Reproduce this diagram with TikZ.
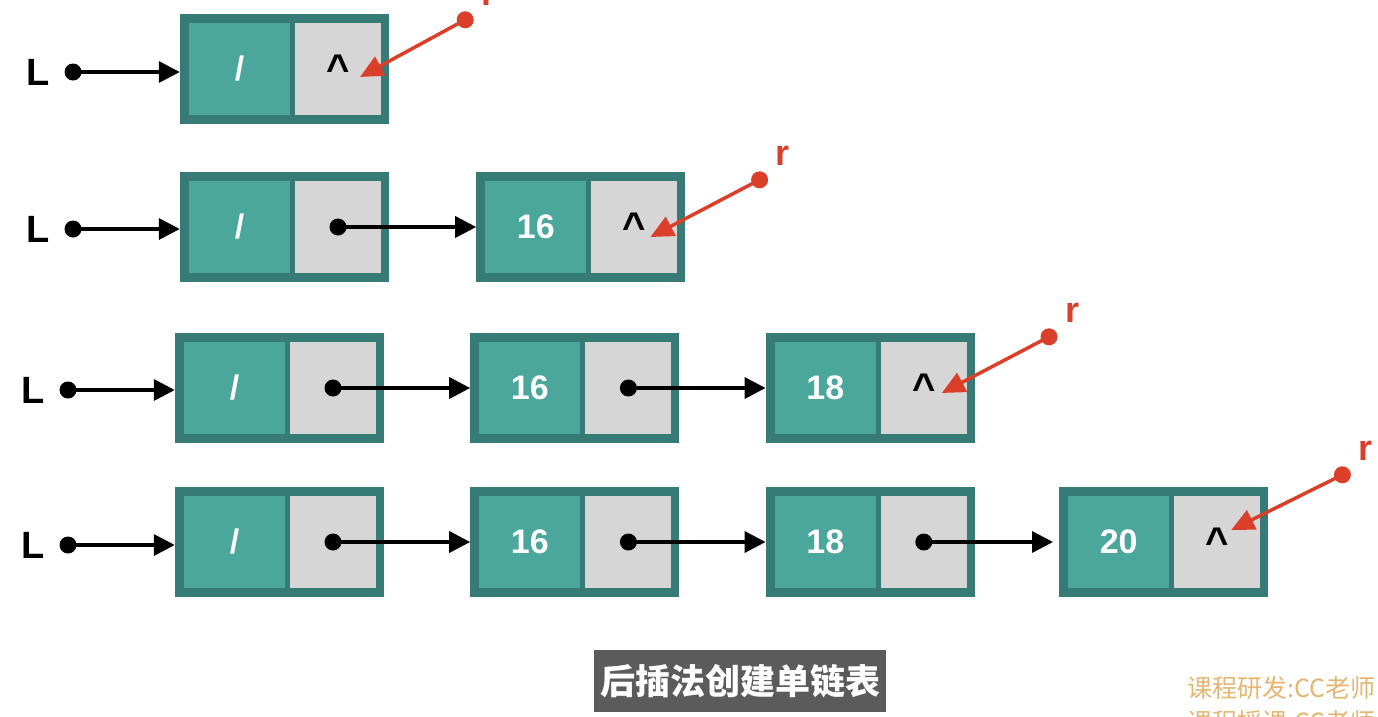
\documentclass[tikz,border=0pt]{standalone}
\usepackage{fontspec}
\setmainfont{Liberation Sans}
\newfontfamily\cjkfont{Noto Sans CJK SC}
\usetikzlibrary{arrows.meta,positioning}
\definecolor{listborder}{HTML}{367B75}
\definecolor{listdata}{HTML}{4BA69C}
\definecolor{listnext}{HTML}{D6D6D6}
\definecolor{listred}{HTML}{DB3F29}
\definecolor{listcap}{HTML}{5B5B5B}
\definecolor{listcredit}{HTML}{E3B672}

% one list node: outer frame, data cell, next cell
\newcommand{\listnode}[4]{%
  \node[lnode,#2] (#1) {};
  \node[datacell,anchor=west] (#1d) at ([xshift=9pt]#1.west) {#3};
  \node[nextcell,anchor=east] (#1n) at ([xshift=-8pt]#1.east) {#4};
}

\begin{document}
\begin{tikzpicture}[x=1pt,y=-1pt,
  lnode/.style={fill=listborder,minimum width=209pt,minimum height=110pt,inner sep=0pt},
  datacell/.style={fill=listdata,minimum width=101pt,minimum height=92pt,inner sep=0pt,text=white,font=\fontsize{34}{34}\selectfont\bfseries},
  nextcell/.style={fill=listnext,minimum width=86pt,minimum height=92pt,inner sep=0pt,font=\fontsize{40}{40}\selectfont\bfseries},
  head/.style={font=\fontsize{38}{38}\selectfont\bfseries},
  arrow/.style={-{Triangle[length=21pt,width=21pt]},line width=3.5pt},
  tailptr/.style={-{Triangle[length=23pt,width=21pt]},line width=3.5pt,draw=listred},
  rlabel/.style={text=listred,font=\fontsize{36}{36}\selectfont\bfseries}
]
\useasboundingbox (0,0) rectangle (1378,716);
\clip (0,0) rectangle (1378,716);

% row 1
\listnode{a1}{at={(284.5,69)}}{/}{\textasciicircum}
\node[head] (L1) at (38,72) {L};
\coordinate (s1) at (73,72);
\fill (s1) circle (8.5pt);
\draw[arrow] (s1) -- (s1 -| a1.west);
\coordinate (r1) at ([shift={(76,6)}]a1.north east);
\coordinate (t1) at ([shift={(22,8)}]a1n.center);
\fill[listred] (r1) circle (8.5pt);
\draw[tailptr] (r1) -- (t1);
\node[rlabel] (rl1) at ([shift={(23,-24)}]r1) {r};

% row 2
\listnode{b1}{at={(284.5,227)}}{/}{}
\listnode{b2}{right=87pt of b1}{16}{\textasciicircum}
\node[head] (L2) at (38,229) {L};
\coordinate (s2) at (73,229);
\fill (s2) circle (8.5pt);
\draw[arrow] (s2) -- (s2 -| b1.west);
\fill (b1n.center) circle (8.5pt);
\draw[arrow] (b1n.center) -- (b2.west);
\coordinate (r2) at ([shift={(74,8)}]b2.north east);
\coordinate (t2) at ([shift={(16,10)}]b2n.center);
\fill[listred] (r2) circle (8.5pt);
\draw[tailptr] (r2) -- (t2);
\node[rlabel] (rl2) at ([shift={(23,-24)}]r2) {r};

% row 3
\listnode{c1}{at={(279.5,388)}}{/}{}
\listnode{c2}{right=86pt of c1}{16}{}
\listnode{c3}{right=86pt of c2}{18}{\textasciicircum}
\node[head] (L3) at (33,390) {L};
\coordinate (s3) at (68,390);
\fill (s3) circle (8.5pt);
\draw[arrow] (s3) -- (s3 -| c1.west);
\fill (c1n.center) circle (8.5pt);
\draw[arrow] (c1n.center) -- (c2.west);
\fill (c2n.center) circle (8.5pt);
\draw[arrow] (c2n.center) -- (c3.west);
\coordinate (r3) at ([shift={(74,4)}]c3.north east);
\coordinate (t3) at ([shift={(18,5)}]c3n.center);
\fill[listred] (r3) circle (8.5pt);
\draw[tailptr] (r3) -- (t3);
\node[rlabel] (rl3) at ([shift={(23,-24)}]r3) {r};

% row 4
\listnode{d1}{at={(279.5,542)}}{/}{}
\listnode{d2}{right=86pt of d1}{16}{}
\listnode{d3}{right=86pt of d2}{18}{}
\listnode{d4}{right=84pt of d3}{20}{\textasciicircum}
\node[head] (L4) at (33,545) {L};
\coordinate (s4) at (68,545);
\fill (s4) circle (8.5pt);
\draw[arrow] (s4) -- (s4 -| d1.west);
\fill (d1n.center) circle (8.5pt);
\draw[arrow] (d1n.center) -- (d2.west);
\fill (d2n.center) circle (8.5pt);
\draw[arrow] (d2n.center) -- (d3.west);
\fill (d3n.center) circle (8.5pt);
\draw[arrow] (d3n.center) -- ([xshift=-6pt]d4.west);
\coordinate (r4) at ([shift={(74,-12)}]d4.north east);
\coordinate (t4) at ([shift={(14,-12)}]d4n.center);
\fill[listred] (r4) circle (8.5pt);
\draw[tailptr] (r4) -- (t4);
\node[rlabel] (rl4) at ([shift={(23,-24)}]r4) {r};

% caption and credits
\node[fill=listcap,text=white,font=\cjkfont\bfseries\fontsize{35}{35}\selectfont,minimum width=292pt,minimum height=62pt,inner sep=0pt] (cap) at (740,681) {后插法创建单链表};
\node[anchor=west,text=listcredit,font=\cjkfont\fontsize{25}{25}\selectfont,inner sep=0pt] (cr1) at (1187,688) {课程研发:CC老师};
\node[anchor=west,text=listcredit,font=\cjkfont\fontsize{25}{25}\selectfont,inner sep=0pt] (cr2) at (1187,722) {课程授课:CC老师};
\end{tikzpicture}
\end{document}
